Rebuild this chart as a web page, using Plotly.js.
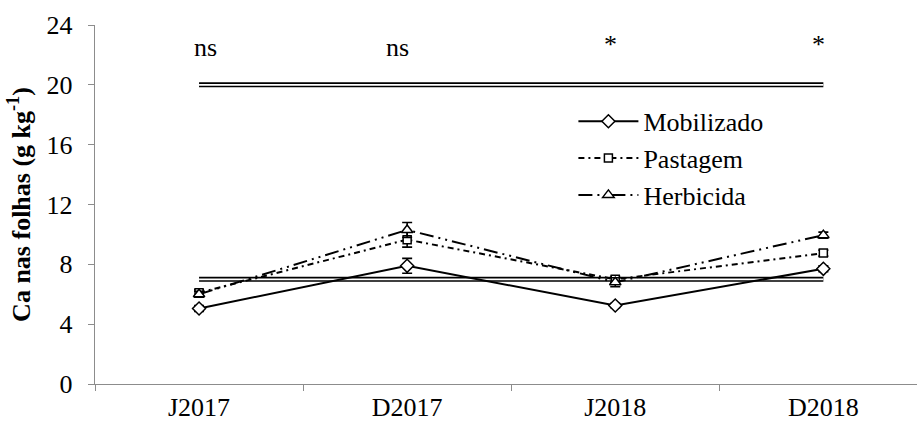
<!DOCTYPE html>
<html>
<head>
<meta charset="utf-8">
<script src="https://cdn.plot.ly/plotly-3.0.1.min.js"></script>
<style>
  html, body { margin: 0; padding: 0; background: #fff; }
  #chart { width: 917px; height: 427px; }
</style>
</head>
<body>
<div id="chart"></div>
<script>
// Sampling dates
const periods = ['J2017', 'D2017', 'J2018', 'D2018'];

// Leaf calcium (g kg-1) per soil management
const mobilizado = [5.05, 7.9, 5.25, 7.7];
const pastagem   = [6.1, 9.65, 7.0, 8.75];
const herbicida  = [6.0, 10.3, 6.8, 9.95];

// Standard errors
const mobilizadoErr = [0.2, 0.5, 0.15, 0.2];
const pastagemErr   = [0.2, 0.5, 0.2, 0.2];
const herbicidaErr  = [0.2, 0.5, 0.3, 0.2];

// Sufficiency range limits (upper, lower)
const refLevels = [20, 7];

// Significance labels per sampling date
const signif = ['ns', 'ns', '*', '*'];
const signifY = [22.5, 22.5, 22.7, 22.7];

const serif = 'Liberation Serif';

function series(name, y, err, dash, symbol, size) {
  return {
    type: 'scatter', mode: 'lines+markers', name: name,
    x: periods, y: y,
    line: { color: '#000', width: 2, dash: dash },
    marker: { symbol: symbol, size: size, color: '#fff',
              line: { color: '#000', width: 1.5 } },
    error_y: { type: 'data', array: err, visible: true,
               color: '#000', thickness: 1.6, width: 5 }
  };
}

const traces = [];

// Double-stroked reference lines: black outline with white core
refLevels.forEach(v => {
  const xs = [periods[0], periods[periods.length - 1]];
  traces.push({ type: 'scatter', mode: 'lines', x: xs, y: [v, v], showlegend: false,
                hoverinfo: 'skip', line: { color: '#000', width: 5 } });
  traces.push({ type: 'scatter', mode: 'lines', x: xs, y: [v, v], showlegend: false,
                hoverinfo: 'skip', line: { color: '#fff', width: 1.8 } });
});

traces.push(series('Mobilizado', mobilizado, mobilizadoErr, 'solid', 'diamond', 10));
traces.push(series('Pastagem', pastagem, pastagemErr, '6px,4px,2px,4px', 'square', 8));
traces.push(series('Herbicida', herbicida, herbicidaErr, '14px,5px,2px,5px,2px,5px', 'triangle-up', 10));

const labelShift = [6, -10, -5, -5];
const annotations = periods.map((p, i) => ({
  x: p, y: signifY[i], xref: 'x', yref: 'y', text: signif[i], xshift: labelShift[i],
  showarrow: false, font: { family: serif, size: 26, color: '#000' }
}));

const layout = {
  width: 917, height: 427,
  margin: { l: 95, r: 0, t: 25, b: 43 },
  paper_bgcolor: '#fff', plot_bgcolor: '#fff',
  font: { family: serif, size: 26, color: '#000' },
  showlegend: true,
  legend: {
    x: 0.582, y: 0.797, xanchor: 'left', yanchor: 'top',
    bgcolor: 'rgba(0,0,0,0)', font: { family: serif, size: 26, color: '#000' },
    itemwidth: 60, tracegroupgap: 0
  },
  xaxis: {
    type: 'category', categoryorder: 'array', categoryarray: periods,
    range: [-0.5, 3.45],
    showline: true, linecolor: '#8c8c8c', linewidth: 1.2,
    showgrid: false, zeroline: false,
    ticks: 'outside', tickson: 'boundaries', ticklen: 6, tickcolor: '#8c8c8c',
    ticklabelstandoff: 0,
    tickfont: { family: serif, size: 26, color: '#000' }
  },
  yaxis: {
    range: [0, 24], tickvals: [0, 4, 8, 12, 16, 20, 24],
    showline: true, linecolor: '#8c8c8c', linewidth: 1.2,
    showgrid: false, zeroline: false,
    ticks: 'outside', ticklen: 6, tickcolor: '#8c8c8c',
    ticklabelstandoff: 10,
    tickfont: { family: serif, size: 26, color: '#000' },
    title: { text: '<b>Ca nas folhas (g kg<sup>-1</sup>)</b>',
             font: { family: serif, size: 26, color: '#000' }, standoff: 8 }
  },
  annotations: annotations
};

Plotly.newPlot('chart', traces, layout, { displayModeBar: false, staticPlot: true });
</script>
</body>
</html>
